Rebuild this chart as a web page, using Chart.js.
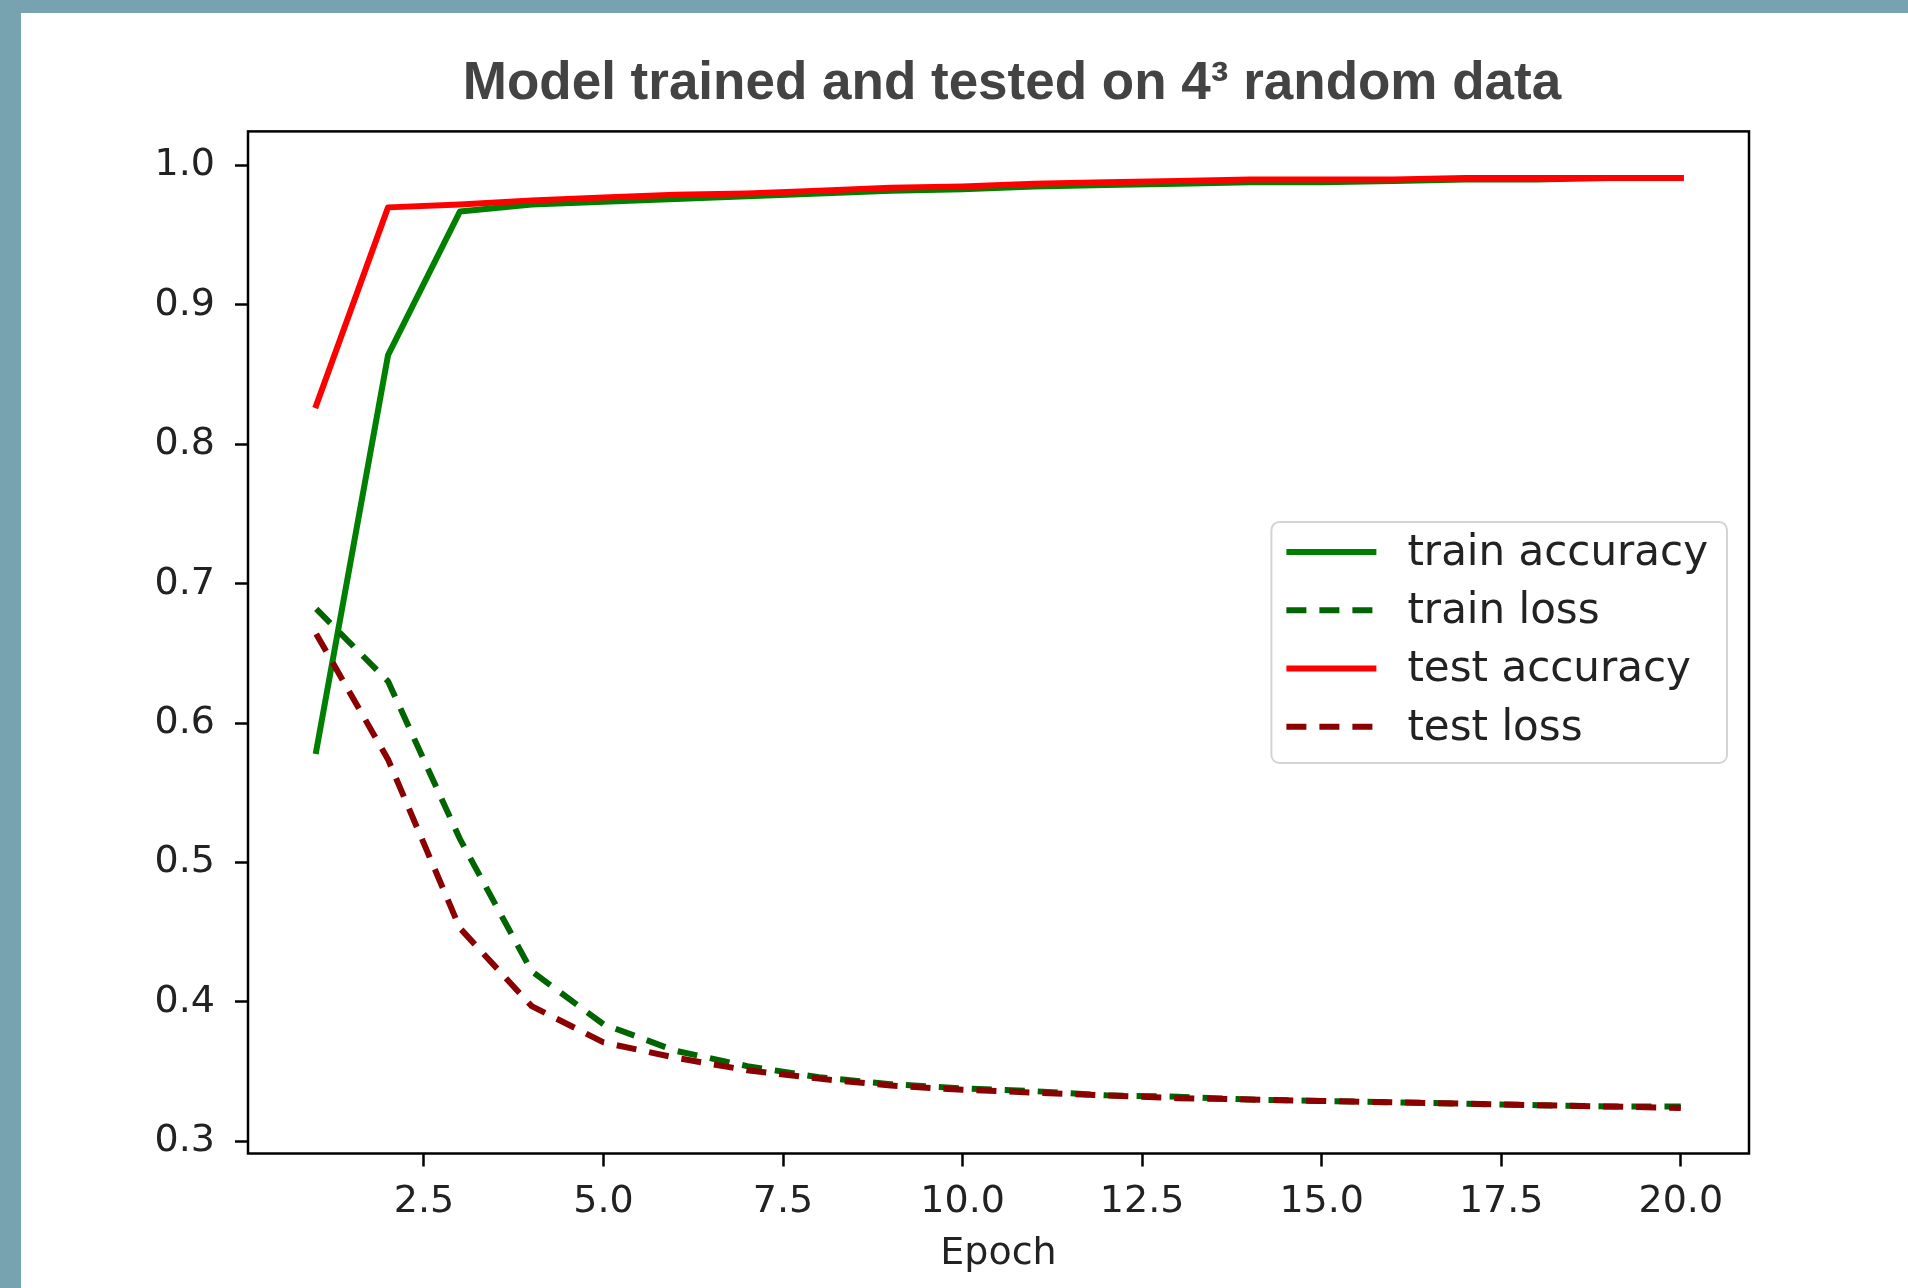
<!DOCTYPE html>
<html>
<head>
<meta charset="utf-8">
<script src="https://cdn.jsdelivr.net/npm/chart.js@4.4.0/dist/chart.umd.min.js"></script>
<style>
  html, body { margin: 0; padding: 0; width: 1908px; height: 1288px; overflow: hidden; background: #77a3b0; }
  #panel { position: absolute; left: 21px; top: 13px; right: 0; bottom: 0; background: #fff; }
  #chart { position: absolute; left: 0; top: 0; }
  #title { position: absolute; left: 1012px; top: 54px; transform: translateX(-50%); white-space: nowrap;
           font: bold 53px "Liberation Sans", Arial, sans-serif; line-height: 53px; color: #434343; }
</style>
</head>
<body>
<div id="panel"></div>
<canvas id="chart" width="1908" height="1288"></canvas>
<div id="title">Model trained and tested on 4³ random data</div>
<script>
var epochs = [1, 2, 3, 4, 5, 6, 7, 8, 9, 10, 11, 12, 13, 14, 15, 16, 17, 18, 19, 20];
var trainAccuracy = [0.580, 0.864, 0.967, 0.972, 0.974, 0.976, 0.978, 0.980, 0.982, 0.983,
                     0.985, 0.986, 0.987, 0.988, 0.988, 0.989, 0.990, 0.990, 0.991, 0.991];
var trainLoss = [0.682, 0.630, 0.517, 0.422, 0.384, 0.365, 0.354, 0.346, 0.341, 0.338,
                 0.336, 0.333, 0.332, 0.330, 0.329, 0.328, 0.327, 0.326, 0.325, 0.325];
var testAccuracy = [0.828, 0.970, 0.972, 0.975, 0.977, 0.979, 0.980, 0.982, 0.984, 0.985,
                    0.987, 0.988, 0.989, 0.990, 0.990, 0.990, 0.991, 0.991, 0.991, 0.991];
var testLoss = [0.664, 0.574, 0.453, 0.397, 0.371, 0.360, 0.351, 0.345, 0.340, 0.337,
                0.335, 0.333, 0.331, 0.330, 0.329, 0.328, 0.327, 0.326, 0.325, 0.324];
var xTicks = [2.5, 5, 7.5, 10, 12.5, 15, 17.5, 20];
var yTicks = [0.3, 0.4, 0.5, 0.6, 0.7, 0.8, 0.9, 1.0];

function points(values) {
    return values.map(function (v, i) { return { x: epochs[i], y: v }; });
}

var tickFont = { family: 'DejaVu Sans', size: 38 };

// axes box + matplotlib-style legend (center right)
var frameAndLegend = {
    id: 'frameAndLegend',
    afterDatasetsDraw: function (chart) {
        var a = chart.chartArea, ctx = chart.ctx;
        ctx.save();
        ctx.strokeStyle = '#000';
        ctx.lineWidth = 2.5;
        ctx.strokeRect(a.left, a.top, a.right - a.left, a.bottom - a.top);
        ctx.restore();
    },
    afterDraw: function (chart) {
        var a = chart.chartArea, ctx = chart.ctx, sets = chart.data.datasets;
        ctx.save();
        ctx.font = '42px "DejaVu Sans"';
        var textW = Math.max.apply(null, sets.map(function (d) { return ctx.measureText(d.label).width; }));
        var w = 15 + 90 + 31 + textW + 19, h = 241;
        var x0 = a.right - 22 - w, y0 = (a.top + a.bottom) / 2 - h / 2;
        ctx.beginPath();
        ctx.roundRect(x0, y0, w, h, 8);
        ctx.fillStyle = 'rgba(255,255,255,0.8)';
        ctx.fill();
        ctx.strokeStyle = '#d4d4d4';
        ctx.lineWidth = 2;
        ctx.stroke();
        sets.forEach(function (d, i) {
            var y = y0 + 30 + i * 58.3;
            ctx.beginPath();
            ctx.setLineDash(d.borderDash || []);
            ctx.strokeStyle = d.borderColor;
            ctx.lineWidth = d.borderWidth;
            ctx.lineCap = 'butt';
            ctx.moveTo(x0 + 15, y);
            ctx.lineTo(x0 + 105, y);
            ctx.stroke();
            ctx.setLineDash([]);
            ctx.fillStyle = '#222';
            ctx.textBaseline = 'middle';
            ctx.fillText(d.label, x0 + 136, y + 2);
        });
        ctx.restore();
    }
};

var ctx = document.getElementById('chart').getContext('2d');
var myChart = new Chart(ctx, {
    type: 'line',
    data: {
        datasets: [{
            label: 'train accuracy',
            data: points(trainAccuracy),
            borderColor: '#008000',
            borderWidth: 6,
            borderCapStyle: 'square',
            order: 3
        }, {
            label: 'train loss',
            data: points(trainLoss),
            borderColor: '#006400',
            borderWidth: 6,
            borderDash: [20, 13],
            order: 2
        }, {
            label: 'test accuracy',
            data: points(testAccuracy),
            borderColor: '#ff0000',
            borderWidth: 6,
            borderCapStyle: 'square',
            order: 1
        }, {
            label: 'test loss',
            data: points(testLoss),
            borderColor: '#8b0000',
            borderWidth: 6,
            borderDash: [20, 13],
            order: 0
        }]
    },
    options: {
        responsive: false,
        animation: false,
        layout: { padding: { left: 0, top: 131.4, right: 159, bottom: 9.5 } },
        elements: {
            point: { radius: 0 },
            line: { tension: 0, borderJoinStyle: 'round', fill: false }
        },
        plugins: {
            legend: { display: false },
            tooltip: { enabled: false },
            title: { display: false }
        },
        scales: {
            x: {
                type: 'linear',
                min: 0.05,
                max: 20.95,
                afterFit: function (s) { s.height = 125; },
                afterBuildTicks: function (s) { s.ticks = xTicks.map(function (v) { return { value: v }; }); },
                ticks: {
                    font: tickFont, color: '#222', padding: 13, autoSkip: false, maxRotation: 0,
                    callback: function (v) { return Number(v).toFixed(1); }
                },
                grid: { display: true, drawOnChartArea: false, drawTicks: true, tickLength: 13, tickWidth: 2.5, tickColor: '#000' },
                border: { display: false },
                title: { display: true, text: 'Epoch', font: tickFont, color: '#222', padding: { top: 0, bottom: 2 } }
            },
            y: {
                min: 0.2913,
                max: 1.0245,
                afterFit: function (s) { s.width = 248; },
                afterBuildTicks: function (s) { s.ticks = yTicks.map(function (v) { return { value: v }; }); },
                ticks: {
                    font: tickFont, color: '#222', padding: 20, autoSkip: false,
                    callback: function (v) { return Number(v).toFixed(1); }
                },
                grid: { display: true, drawOnChartArea: false, drawTicks: true, tickLength: 13, tickWidth: 2.5, tickColor: '#000' },
                border: { display: false }
            }
        }
    },
    plugins: [frameAndLegend]
});
</script>
</body>
</html>
